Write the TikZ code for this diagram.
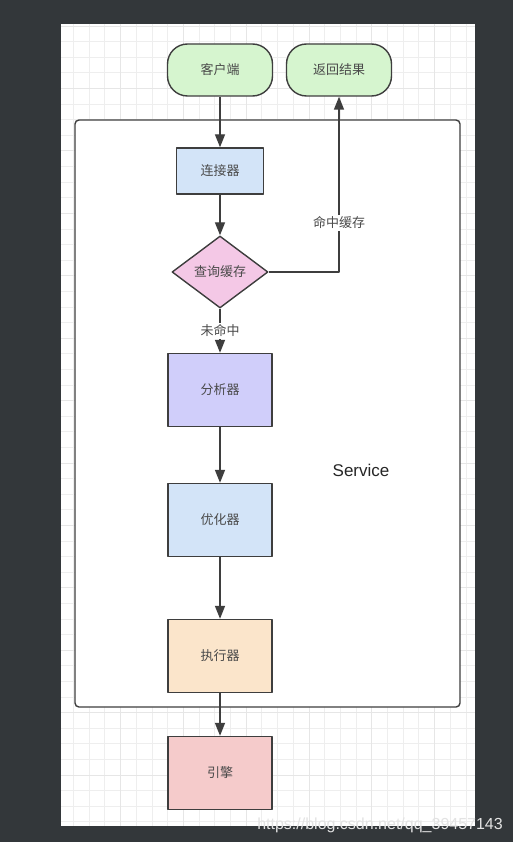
\documentclass[tikz,border=0pt]{standalone}
\usepackage{fontspec}
\setmainfont{Liberation Sans}
\newfontfamily\cjk{Noto Sans CJK SC}
\usetikzlibrary{shapes.geometric,arrows.meta}
\definecolor{bgcol}{HTML}{33373A}
\definecolor{gridcol}{HTML}{EEEEEE}
\definecolor{majorcol}{HTML}{E6E6E6}
\definecolor{linecol}{HTML}{3E3E3E}
\definecolor{textcol}{HTML}{4A4A4A}
\definecolor{greenfill}{HTML}{D6F5CF}
\definecolor{bluefill}{HTML}{D3E4F8}
\definecolor{pinkfill}{HTML}{F4C8E6}
\definecolor{purplefill}{HTML}{D0CEFA}
\definecolor{orangefill}{HTML}{FBE5CB}
\definecolor{redfill}{HTML}{F5CBCB}

\begin{document}
\begin{tikzpicture}[x=1pt,y=-1pt,>={Triangle[length=13pt,width=10pt]},line join=round,
	cn/.style={font=\cjk\fontsize{13}{15}\selectfont, text=textcol},
	box/.style={cn, draw=linecol, line width=1.4pt, minimum width=104pt, minimum height=73pt},
	term/.style={cn, draw=linecol, line width=1.4pt, fill=greenfill, rounded corners=20pt, minimum width=105pt, minimum height=52pt},
	flow/.style={->, draw=linecol, line width=1.4pt},
	tag/.style={cn, fill=white, inner sep=2pt}]
	% background and grid paper
	\fill[bgcol] (0,0) rectangle (513,842);
	\fill[white] (61,24) rectangle (475,826);
	\begin{scope}
		\clip (61,24) rectangle (475,826);
		\foreach \i in {0,...,27}
			\draw[gridcol, line width=0.6pt] (57.6+15.7*\i,24) -- (57.6+15.7*\i,826);
		\foreach \i in {0,...,51}
			\draw[gridcol, line width=0.6pt] (61,26+15.6*\i) -- (475,26+15.6*\i);
		\foreach \i in {0,...,7}
			\draw[majorcol, line width=0.6pt] (57.6+62.8*\i,24) -- (57.6+62.8*\i,826);
		\foreach \i in {0,...,13}
			\draw[majorcol, line width=0.6pt] (61,26+62.4*\i) -- (475,26+62.4*\i);
	\end{scope}
	% service frame
	\draw[linecol, line width=1.4pt, fill=white, rounded corners=4pt] (75,120) rectangle (460,707);
	\node[font=\fontsize{17}{19}\selectfont, text=black!85] (service) at (361,470) {Service};
	% nodes
	\node[term] (client) at (220,70) {客户端};
	\node[term] (result) at (339,70) {返回结果};
	\node[box, fill=bluefill, minimum width=87pt, minimum height=46pt] (conn) at (220,171) {连接器};
	\node[cn, diamond, draw=linecol, line width=1.4pt, fill=pinkfill, minimum width=96pt, minimum height=72pt, inner sep=0pt] (query) at (220,272) {查询缓存};
	\node[box, fill=purplefill] (parser) at (220,390) {分析器};
	\node[box, fill=bluefill] (optim) at (220,520) {优化器};
	\node[box, fill=orangefill] (exec) at (220,656) {执行器};
	\node[box, fill=redfill] (engine) at (220,773) {引擎};
	% connectors
	\draw[flow] (client) -- (conn);
	\draw[flow] (conn) -- (query);
	\draw[flow] (query.east) -| node[tag, pos=0.64] (hit) {命中缓存} (result.south);
	\draw[flow] (query) -- node[tag] (miss) {未命中} (parser);
	\draw[flow] (parser) -- (optim);
	\draw[flow] (optim) -- (exec);
	\draw[flow] (exec) -- (engine);
	% watermark
	\node[anchor=base east, font=\fontsize{16}{18}\selectfont, text=white!78!gray, inner sep=0pt] (mark) at (503,829) {https://blog.csdn.net/qq\_39457143};
\end{tikzpicture}
\end{document}
